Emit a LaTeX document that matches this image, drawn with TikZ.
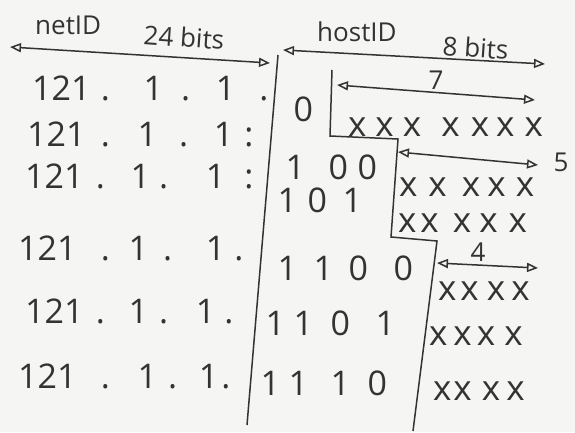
\documentclass[tikz,border=0pt]{standalone}
\usepackage{fontspec}
\setmainfont{Open Sans}
\usetikzlibrary{arrows.meta}
\definecolor{pencil}{HTML}{333333}
\definecolor{paper}{HTML}{F5F5F3}
\newcommand{\bgap}[1]{\hspace{#1pt}}
\newcommand{\ipnet}[6]{121\bgap{#1}.\bgap{#2}1\bgap{#3}.\bgap{#4}1\bgap{#5}#6}

\begin{document}
\begin{tikzpicture}[x=1pt,y=-1pt,
 lbl/.style={font=\fontsize{26}{28}\selectfont,text=pencil,inner sep=0pt},
 bitrow/.style={anchor=base west,font=\fontsize{34}{36}\selectfont,text=pencil,inner sep=0pt},
 xrow/.style={anchor=base west,font=\fontsize{35}{36}\selectfont,text=pencil,inner sep=0pt},
 dimarrow/.style={{Triangle[open,length=11pt,width=9pt]}-{Triangle[open,length=11pt,width=9pt]},line width=1.5pt,draw=pencil},
 stepline/.style={line width=1.5pt,draw=pencil}
]
\fill[paper] (0,0) rectangle (575,432);
\useasboundingbox (0,0) rectangle (575,432);
% field widths
\node[lbl,anchor=base west] (netlbl) at (35,34) {netID};
\node[lbl,anchor=base west,rotate=-4] (netbits) at (143,44) {24 bits};
\node[lbl,anchor=base west] (hostlbl) at (317,41) {hostID};
\node[lbl,anchor=base west,rotate=-4] (hostbits) at (442,55) {8 bits};
\coordinate (netL) at (10,47);
\coordinate (netR) at (270,63);
\coordinate (hostL) at (283,50);
\coordinate (hostR) at (545,64);
\draw[dimarrow] (netL) -- (netR);
\draw[dimarrow] (hostL) -- (hostR);
% split between net and host
\coordinate (splitT) at (278,55);
\coordinate (splitB) at (247,425);
\draw[stepline] (splitT) -- (splitB);
% network part
\node[bitrow] (net1) at (32,100) {\ipnet{10.4}{33.7}{17.9}{25.9}{23.9}{.}};
\node[bitrow] (net2) at (27,146) {\ipnet{15.4}{27.7}{21.9}{25.9}{10.9}{:}};
\node[bitrow] (net3) at (25,188) {\ipnet{12.4}{25.7}{8.9}{37.9}{18.9}{:}};
\node[bitrow] (net4) at (18,260) {\ipnet{24.4}{18.7}{14.9}{33.9}{8.9}{.}};
\node[bitrow] (net5) at (25,323) {\ipnet{12.4}{23.7}{10.9}{27.9}{8.9}{.}};
\node[bitrow] (net6) at (18,388) {\ipnet{24.4}{27.7}{10.9}{21.9}{2.9}{.}};
% subnet bits
\node[bitrow] (host1) at (293.3,121) {0};
\node[bitrow] (host2) at (285.3,179) {1\bgap{23.6}0\bgap{9.6}0};
\node[bitrow] (host3) at (277.3,212) {1\bgap{10.6}0\bgap{15.6}1};
\node[bitrow] (host4) at (277.3,280) {1\bgap{16.6}1\bgap{15.6}0\bgap{25.6}0};
\node[bitrow] (host5) at (265.3,335) {1\bgap{8.6}1\bgap{17.6}0\bgap{25.6}1};
\node[bitrow] (host6) at (260.3,395) {1\bgap{8.6}1\bgap{22.6}1\bgap{17.6}0};
% staircase
\coordinate (s0) at (332,70);
\coordinate (s1) at (330,136);
\coordinate (s2) at (398,139);
\coordinate (s3) at (391,237);
\coordinate (s4) at (437,241);
\coordinate (s5) at (413,431);
\draw[stepline] (s0) -- (s1) -- (s2) -- (s3) -- (s4) -- (s5);
% host bits left
\coordinate (a7L) at (337,85);
\coordinate (a7R) at (535,100);
\coordinate (a5L) at (398,152);
\coordinate (a5R) at (538,165);
\coordinate (a4L) at (437,263);
\coordinate (a4R) at (538,268);
\draw[dimarrow] (a7L) -- (a7R);
\draw[dimarrow] (a5L) -- (a5R);
\draw[dimarrow] (a4L) -- (a4R);
\node[lbl] (n7) at (436,80) {7};
\node[lbl] (n5) at (561,162) {5};
\node[lbl] (n4) at (478,252) {4};
\node[xrow] (xs1) at (347.8,136) {x\bgap{9.1}x\bgap{9.1}x\bgap{20.1}x\bgap{11.1}x\bgap{7.1}x\bgap{10.1}x};
\node[xrow] (xs2) at (398.8,196) {x\bgap{11.1}x\bgap{15.1}x\bgap{7.1}x\bgap{10.1}x};
\node[xrow] (xs3) at (397.8,232) {x\bgap{4.1}x\bgap{14.1}x\bgap{8.1}x\bgap{11.1}x};
\node[xrow] (xs4) at (437.8,300) {x\bgap{4.1}x\bgap{8.1}x\bgap{6.1}x};
\node[xrow] (xs5) at (428.8,345) {x\bgap{6.1}x\bgap{5.1}x\bgap{9.1}x};
\node[xrow] (xs6) at (432.8,400) {x\bgap{2.1}x\bgap{10.1}x\bgap{6.1}x};
\end{tikzpicture}
\end{document}
